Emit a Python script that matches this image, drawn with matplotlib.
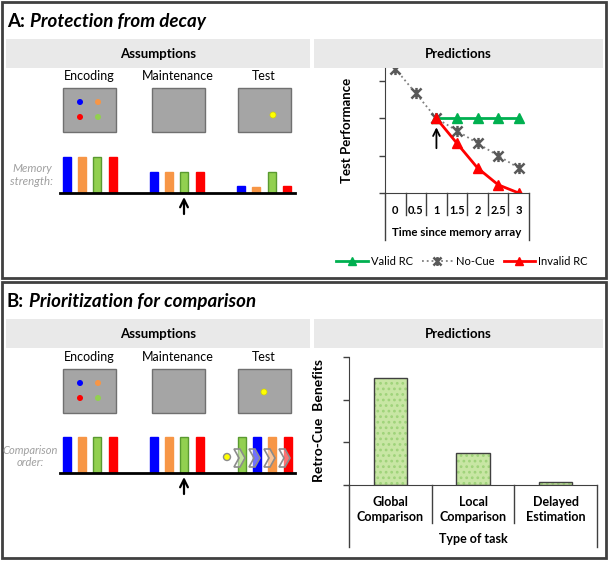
import numpy as np
import matplotlib
matplotlib.use('Agg')
import matplotlib.pyplot as plt
from matplotlib.patches import Rectangle, Polygon, Circle
from matplotlib.path import Path
from matplotlib.transforms import blended_transform_factory

plt.rcParams['font.family'] = ['Lato', 'DejaVu Sans']
plt.rcParams['hatch.linewidth'] = 1.2

W, H = 609, 561

# ---- data ----
stages = ['Encoding', 'Maintenance', 'Test']
item_colors = ['#0000ff', '#f79646', '#92d050', '#ff0000']

# panel A: memory strength of the four items per stage
strength_A = [[1.0, 1.0, 1.0, 1.0],
              [0.58, 0.58, 0.58, 0.58],
              [0.2, 0.18, 0.58, 0.2]]
# panel B: comparison order (item index per slot) per stage
order_B = [[0, 1, 2, 3], [0, 1, 2, 3], [2, 0, 1, 3]]
height_B = [1.0, 1.0, 1.0, 1.0]

time_labels = ['0', '0.5', '1', '1.5', '2', '2.5', '3']
no_cue = [3.33, 2.67, 2.0, 1.67, 1.33, 1.0, 0.67]
valid_rc = [np.nan, np.nan, 2.0, 2.0, 2.0, 2.0, 2.0]
invalid_rc = [np.nan, np.nan, 2.0, 1.33, 0.67, 0.22, 0.0]

task_labels = ['Global\nComparison', 'Local\nComparison', 'Delayed\nEstimation']
benefits = [2.5, 0.75, 0.07]

fig = plt.figure(figsize=(W / 100, H / 100), dpi=100)


def px_axes(l, t, r, b, z=1):
    ax = fig.add_axes([l / W, 1 - b / H, (r - l) / W, (b - t) / H], zorder=z)
    ax.patch.set_alpha(0)
    return ax


bg = px_axes(0, 0, W, H, z=0)
bg.set_xlim(0, W)
bg.set_ylim(H, 0)
bg.axis('off')
fg = px_axes(0, 0, W, H, z=5)
fg.set_xlim(0, W)
fg.set_ylim(H, 0)
fg.axis('off')

arrow_kw = dict(arrowstyle='->', color='black', shrinkA=0, shrinkB=0)


def title(x, y, head, rest):
    t = bg.text(x, y, head, fontsize=13.5, fontweight='bold', va='center')
    fig.canvas.draw()
    bb = t.get_window_extent()
    x1 = bg.transData.inverted().transform((bb.x1, bb.y0))[0]
    bg.text(x1 + 5, y, rest, fontsize=13.5, fontweight='bold',
            style='italic', va='center')


def panel(top, letter, name, is_b):
    bg.add_patch(Rectangle((2, top), 604, 276, fc='white', ec='#404040', lw=2))
    title(7, top + 19, letter + ':', name)
    bt = top + 37
    bg.add_patch(Rectangle((6, bt), 304, 29, fc='#e9e9e9', ec='none'))
    bg.add_patch(Rectangle((314, bt), 289, 29, fc='#e9e9e9', ec='none'))
    bg.text(158, bt + 14.5, 'Assumptions', fontsize=9.5, fontweight='bold',
            ha='center', va='center')
    bg.text(458, bt + 14.5, 'Predictions', fontsize=9.5, fontweight='bold',
            ha='center', va='center')

    # stage labels and screens
    box_x = [63, 152, 238]
    box_t = top + 86 if not is_b else top + 87
    for s, bx in zip(stages, box_x):
        bg.text(bx + 26, box_t - 12, s, fontsize=9, ha='center', va='center')
        bg.add_patch(Rectangle((bx, box_t), 53, 44, fc='#a5a5a5', ec='#707070', lw=1))
    for (dx, dy), c in zip([(17, 14), (35, 14), (35, 29), (17, 29)],
                           [item_colors[0], item_colors[1], item_colors[2], item_colors[3]]):
        bg.add_patch(Circle((box_x[0] + dx, box_t + dy), 3, fc=c, ec='none'))
    if is_b:
        bg.add_patch(Circle((box_x[2] + 26, box_t + 23), 3, fc='#ffff00', ec='#d4d400', lw=0.5))
    else:
        bg.add_patch(Circle((box_x[2] + 35, box_t + 27), 3, fc='#ffff00', ec='#d4d400', lw=0.5))


panel(2, 'A', 'Protection from decay', False)
panel(282, 'B', 'Prioritization for comparison', True)


def strip(baseline, slots, heights, colors):
    ax = px_axes(56, baseline - 44, 298, baseline, z=2)
    ax.set_xlim(56, 298)
    ax.set_ylim(0, 44 / 36)
    ax.axis('off')
    for xs, hs, cs in zip(slots, heights, colors):
        ec = ['#5a9a30' if c == item_colors[2] else c for c in cs]
        ax.bar(xs, hs, width=8, color=cs, edgecolor=ec, linewidth=1)
    ax.plot([60, 295], [0, 0], color='black', lw=2, clip_on=False)
    return ax


slots_A = [[67, 82, 97, 113], [153.5, 169, 184, 199.5], [240.5, 256, 271.5, 287]]
strip(193, slots_A, strength_A, [item_colors] * 3)

slots_B = [[67, 82, 97, 113], [153.5, 169, 184, 199.5], [242, 257, 272, 287.5]]
strip(473, slots_B, [height_B] * 3,
      [[item_colors[i] for i in o] for o in order_B])

# cue arrows under the maintenance green bar
for y0 in (214, 494):
    bg.annotate('', xy=(184, y0 - 17), xytext=(184, y0),
                arrowprops=dict(lw=1.6, mutation_scale=14, **arrow_kw))

bg.text(32, 175, 'Memory\nstrength:', fontsize=8.3, style='italic', color='#a0a0a0',
        ha='center', va='center', linespacing=1.15)
bg.text(30.5, 456.5, 'Comparison\norder:', fontsize=8, style='italic', color='#a0a0a0',
        ha='center', va='center', linespacing=1.2)

# comparison chevrons in panel B test stage
fg.add_patch(Circle((227, 457), 3.5, fc='#ffff00', ec='#8c8c8c', lw=1))
for x0 in (234, 249, 264, 279):
    pts = [(x0, 449), (x0 + 6, 449), (x0 + 11, 458), (x0 + 6, 467),
           (x0, 467), (x0 + 5, 458)]
    fg.add_patch(Polygon(pts, closed=True, fc=(1, 1, 1, 0.45), ec='#8c8c8c', lw=1.2))

# excel-like star marker: an X with a vertical bar
star = Path([(-1, -1), (1, 1), (-1, 1), (1, -1), (0, -1.1), (0, 1.1)],
            [Path.MOVETO, Path.LINETO] * 3)

# ---- panel A line chart ----
ax1 = px_axes(385, 68, 529, 193, z=3)
xs = np.arange(len(time_labels))
ax1.plot(xs, valid_rc, color='#00b050', lw=2, marker='^', ms=6.5, label='Valid RC')
ax1.plot(xs, no_cue, color='#808080', lw=1.3, ls=':', marker=star, ms=8,
         mec='#595959', mew=1.8, label='No-Cue')
ax1.plot(xs, invalid_rc, color='#ff0000', lw=2, marker='^', ms=6.5, label='Invalid RC')
ax1.set_xlim(-0.5, 6.5)
ax1.set_ylim(0, 3.35)
ax1.set_yticks([0, 1, 2, 3])
ax1.set_yticklabels([])
ax1.tick_params(axis='y', length=4, width=1, color='#404040')
ax1.set_xticks(xs)
ax1.set_xticklabels(time_labels, fontsize=8, fontweight='bold')
ax1.tick_params(axis='x', length=0, pad=9)
for s in ('top', 'right'):
    ax1.spines[s].set_visible(False)
for s in ('left', 'bottom'):
    ax1.spines[s].set_color('#404040')
tr1 = blended_transform_factory(ax1.transData, ax1.transAxes)
for i in range(len(time_labels) + 1):
    depth = 0.376 if i in (0, len(time_labels)) else 0.176
    ax1.plot([i - 0.5, i - 0.5], [0, -depth], transform=tr1, clip_on=False,
             color='#404040', lw=1)
ax1.set_ylabel('Test Performance', fontsize=9.5, fontweight='bold')
ax1.yaxis.set_label_coords(-0.222, 0.5)
ax1.text(0.5, -0.312, 'Time since memory array', transform=ax1.transAxes,
         fontsize=8.3, fontweight='bold', ha='center', va='center')
ax1.annotate('', xy=(2, 1.76), xytext=(2, 1.2),
             arrowprops=dict(lw=1.3, mutation_scale=12, **arrow_kw))
fig.legend(*ax1.get_legend_handles_labels(), loc='center',
           bbox_to_anchor=(462 / W, 1 - 261 / H), ncol=3, frameon=False,
           fontsize=8, handlelength=2.8, columnspacing=0.8, handletextpad=0.3,
           markerscale=0.8)

# ---- panel B bar chart ----
ax2 = px_axes(349, 357, 597, 485, z=3)
bx = np.arange(len(task_labels))
ax2.bar(bx, benefits, width=0.4, color='#c8e6a4', edgecolor='#9fd37a',
        hatch='...', linewidth=0)
ax2.bar(bx, benefits, width=0.4, fill=False, edgecolor='#404040', linewidth=1)
ax2.set_xlim(-0.5, 2.5)
ax2.set_ylim(0, 3)
ax2.set_yticks([0, 1, 2, 3])
ax2.set_yticklabels([])
ax2.tick_params(axis='y', length=4, width=1, color='#404040')
ax2.set_xticks(bx)
ax2.set_xticklabels(task_labels, fontsize=9, fontweight='bold', linespacing=1.25)
ax2.tick_params(axis='x', length=0, pad=8)
for s in ('top', 'right'):
    ax2.spines[s].set_visible(False)
for s in ('left', 'bottom'):
    ax2.spines[s].set_color('#404040')
tr2 = blended_transform_factory(ax2.transData, ax2.transAxes)
for i in range(len(task_labels) + 1):
    depth = 0.484 if i in (0, len(task_labels)) else 0.297
    ax2.plot([i - 0.5, i - 0.5], [0, -depth], transform=tr2, clip_on=False,
             color='#404040', lw=1)
ax2.set_ylabel('Retro-Cue  Benefits', fontsize=10, fontweight='bold')
ax2.yaxis.set_label_coords(-0.097, 0.5)
ax2.text(0.5, -0.42, 'Type of task', transform=ax2.transAxes,
         fontsize=9, fontweight='bold', ha='center', va='center')

fig.savefig('out.png', dpi=100)
